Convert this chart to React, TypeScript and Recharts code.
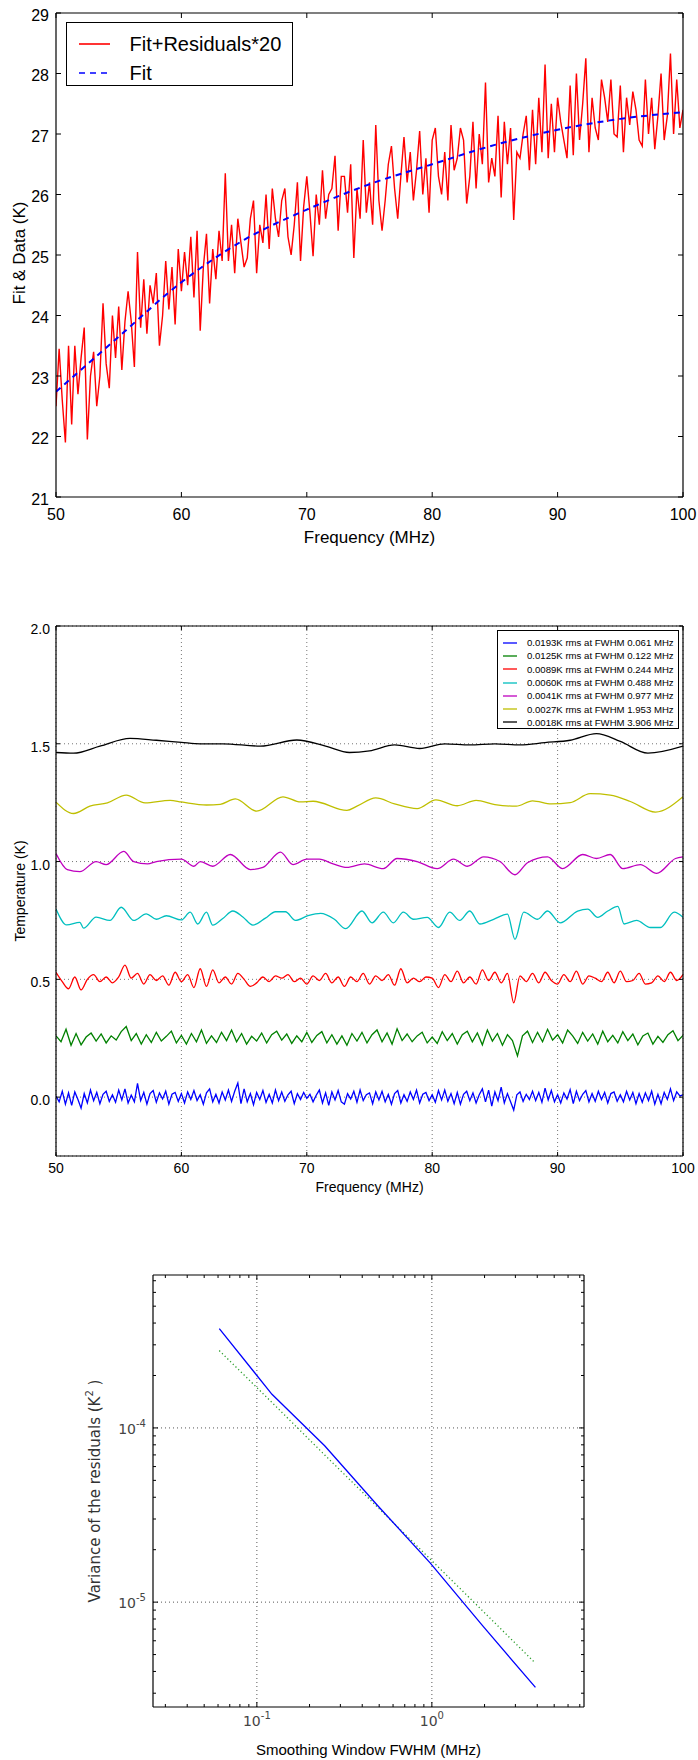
import React from "react";
import { LineChart, Line, XAxis, YAxis, CartesianGrid, Legend, ReferenceLine } from "recharts";

const SANS = "'Liberation Sans', Arial, Helvetica, sans-serif";
const DEJAVU = "'DejaVu Sans', sans-serif";

// ---------- panel 1: fit and fit + residuals*20 (K) ----------
const freqTicks = [50, 60, 70, 80, 90, 100];
const tempTicks = [21, 22, 23, 24, 25, 26, 27, 28, 29];
const fitFreq = [50, 55, 60, 65, 70, 75, 80, 85, 90, 95, 100];
const fitTemp = [22.74, 23.65, 24.55, 25.25, 25.75, 26.17, 26.5, 26.82, 27.07, 27.25, 27.36];
// 0.25 MHz steps from 50 MHz
const dataTemp = [
  22.5, 23.45, 22.6, 21.9, 23.5, 22.2, 23.5, 22.7,
  23.3, 23.8, 21.95, 23.0, 23.4, 22.5, 23.0, 24.2,
  23.2, 22.8, 24.0, 23.3, 24.15, 23.1, 23.9, 24.4,
  23.9, 23.15, 25.05, 23.8, 24.6, 23.7, 24.5, 24.2,
  24.7, 23.5, 24.0, 24.9, 24.1, 24.8, 23.85, 25.1,
  24.4, 25.05, 24.5, 25.3, 24.3, 25.4, 23.75, 24.8,
  25.35, 24.2, 25.1, 24.6, 25.4, 24.9, 26.35, 24.9,
  25.5, 24.7, 25.6, 25.2, 24.8, 24.95, 25.6, 25.9,
  24.7, 25.5, 25.2, 26.0, 25.1, 26.1, 25.6, 25.3,
  25.9, 26.1, 25.3, 25.0, 25.5, 26.2, 24.9, 25.8,
  26.3, 25.7, 24.98, 26.0, 25.5, 26.4, 25.6, 26.0,
  26.1, 26.64, 25.4, 26.3, 26.3, 25.7, 26.5, 24.95,
  26.1, 25.6, 26.9, 25.7, 26.2, 25.5, 27.15, 25.9,
  25.4, 25.9, 26.5, 26.8, 26.1, 25.6, 26.3, 26.95,
  26.2, 26.7, 25.9, 26.4, 27.05, 26.0, 26.6, 25.7,
  26.9, 27.1, 26.3, 26.0, 26.7, 25.9, 27.15, 26.4,
  26.6, 27.1, 26.9, 25.85, 26.3, 27.2, 26.1, 27.0,
  26.5, 27.85, 26.2, 26.6, 26.3, 27.3, 25.95, 27.2,
  26.5, 27.1, 25.58, 26.7, 26.6, 27.0, 27.3, 26.4,
  27.4, 26.5, 27.6, 26.7, 28.15, 26.6, 27.5, 26.7,
  27.6, 27.2, 26.9, 26.6, 27.8, 26.65, 28.0, 26.9,
  27.5, 28.25, 26.7, 27.6, 27.1, 26.9, 27.9, 27.6,
  27.2, 27.9, 27.0, 26.95, 27.8, 26.7, 27.6, 27.15,
  27.7, 27.4, 26.9, 26.8, 27.9, 27.0, 27.6, 26.75,
  27.3, 28.0, 26.9, 27.3, 28.33, 27.0, 27.9, 27.1,
  27.4,
];
const p1Legend = [
  { label: "Fit+Residuals*20", color: "#ff0000", dash: undefined },
  { label: "Fit", color: "#0000ff", dash: "6 5" },
];

// ---------- panel 2: smoothed residuals, offset by 0.25 K ----------
const p2YTicks = [0, 0.5, 1, 1.5, 2];
const smoothLabels = [
  "0.0193K rms at FWHM 0.061 MHz",
  "0.0125K rms at FWHM 0.122 MHz",
  "0.0089K rms at FWHM 0.244 MHz",
  "0.0060K rms at FWHM 0.488 MHz",
  "0.0041K rms at FWHM 0.977 MHz",
  "0.0027K rms at FWHM 1.953 MHz",
  "0.0018K rms at FWHM 3.906 MHz",
];
const smoothColors = ["#0000ff", "#008000", "#ff0000", "#00bfbf", "#bf00bf", "#bfbf00", "#000000"];
// mK around 0.0 K, 0.25 MHz steps
const blueRes = [
  5, -20, 25, -30, 18, -35, 22, -10,
  -47, 15, -25, 30, -15, 20, -28, 12,
  25, -18, 10, -22, 30, -12, 35, -25,
  8, -20, 58, -15, 20, -30, 15, 28,
  -22, 18, -8, 25, -30, 12, 20, -18,
  15, -25, 22, -10, 28, -15, 10, -30,
  18, 35, -20, 12, -25, 22, -12, 30,
  -18, 25, 60, -28, 35, -20, 15, -32,
  20, -10, 28, -22, 12, -25, 30, -15,
  22, -18, 10, 25, -28, 15, -10, 20,
  -5, 12, -20, 8, 30, -25, 18, -35,
  22, -12, 28, -20, -30, 15, -8, 25,
  -22, 30, -15, 10, 18, -28, 22, -12,
  25, -20, 12, -30, 15, 28, -25, 10,
  -18, 22, -10, 30, -25, 12, 20, -15,
  10, -22, 28, -12, 30, -18, 15, -28,
  20, -30, 12, 25, -15, 18, -25, 10,
  35, -20, 30, -38, 22, -15, 42, -25,
  15, -20, -55, 10, 22, -18, 12, -10,
  25, -15, 20, -22, 38, -12, 28, -20,
  10, -25, 18, -8, 32, -28, 25, -15,
  12, 28, -20, 15, -18, 25, -10, 20,
  -25, 15, 22, -18, 10, -20, 25, -12,
  20, -28, 15, -22, 18, -15, 25, -30,
  12, -28, 20, -10, 35, -15, 22, 5,
  10,
];
// mK around 0.25 K, 0.4 MHz steps
const greenRes = [
  10, -15, 38, -30, 20, -28, 5, 22, -12, 18,
  -20, 10, -8, 28, 50, -10, 20, -25, 15, -18,
  25, -12, 8, 30, -20, 12, -25, 20, -15, 35,
  -22, 10, -18, 25, -10, 35, -15, 20, -25, 8,
  -12, 22, -20, 15, 30, -8, 18, -22, 10, -15,
  25, -18, 12, 28, -20, 15, -25, 10, -30, 20,
  -12, 25, -20, 15, 35, -15, 22, -25, 40, -10,
  18, -15, 10, 25, -20, 5, -22, 28, -10, 20,
  -25, 15, 30, -15, 22, -28, 35, -12, 20, -30,
  15, -10, -75, 10, 30, -18, 25, -15, 38, -8,
  15, -20, 35, 10, -22, 25, -12, 18, -25, 30,
  -15, 12, -20, 28, -10, 18, -28, 10, 22, -25,
  8, -18, 15, 32, -10, 12,
];
// mK around 0.5 K, 0.5 MHz steps
const redRes = [
  30, -10, -40, 10, -45, 0, 20, -10, 10, -15,
  10, 60, 5, 25, -20, 20, -5, 15, -25, 30,
  -10, 20, -35, 45, -30, 40, -15, 10, -20, 25,
  0, -30, -15, 10, -10, 15, 5, 20, -10, 5,
  -20, 15, -5, 25, -15, 10, -30, 10, -10, 25,
  -20, 15, -5, 20, -25, 45, -15, 5, -10, 10,
  5, -35, 20, -10, 35, -15, 10, -20, 40, -5,
  30, -15, 25, -100, 15, -10, 25, -15, 30, -5,
  -20, 20, -10, 35, -20, 15, 5, -10, 30, -15,
  35, -10, -5, 25, -20, -15, 15, -10, 30, -5,
  20,
];
const cyanFreq = [50, 50.85, 51.9, 52.2, 53.2, 54.3, 55.2, 56.2, 57.2, 58, 58.8, 60, 60.7, 61.3, 62, 62.5, 63.3, 64.1, 64.9, 65.7, 66.7, 67.5, 68.3, 69.1, 70.1, 71.1, 72.2, 73.1, 74.4, 75.2, 76.1, 76.9, 77.7, 78.5, 79.6, 80.5, 81.4, 82.2, 83, 83.8, 84.9, 86, 86.6, 87.3, 88.4, 89.2, 90.2, 91.6, 92.4, 93.2, 94, 94.8, 95.3, 96.3, 97.4, 98.2, 99.3, 100];
const cyanTemp = [0.799, 0.731, 0.742, 0.717, 0.764, 0.75, 0.806, 0.75, 0.778, 0.755, 0.77, 0.752, 0.785, 0.735, 0.785, 0.73, 0.758, 0.79, 0.765, 0.73, 0.76, 0.787, 0.787, 0.75, 0.77, 0.78, 0.755, 0.715, 0.79, 0.74, 0.785, 0.74, 0.785, 0.755, 0.763, 0.72, 0.785, 0.75, 0.79, 0.735, 0.755, 0.777, 0.67, 0.785, 0.755, 0.79, 0.74, 0.79, 0.798, 0.763, 0.79, 0.81, 0.735, 0.75, 0.72, 0.72, 0.785, 0.763];
const magFreq = [50, 50.9, 51.9, 53.2, 54, 55.4, 56.2, 57.3, 58, 60, 61, 61.5, 62.5, 63.9, 65.5, 66.5, 67.9, 68.9, 70, 71, 72.1, 73.2, 74.6, 76.1, 77.2, 78.8, 80.4, 81.7, 82.8, 84.1, 85.4, 86.6, 87.6, 89.2, 90.4, 92, 93.1, 94.2, 95.2, 96.6, 97.9, 99.4, 100];
const magTemp = [1.034, 0.966, 0.957, 1.0, 0.987, 1.043, 1.0, 0.99, 1.0, 1.01, 0.98, 1.0, 0.98, 1.03, 0.966, 0.975, 1.04, 0.987, 1.01, 1.01, 0.99, 0.975, 0.99, 0.97, 1.013, 1.0, 0.97, 1.01, 0.98, 1.02, 1.0, 0.944, 0.995, 1.02, 0.97, 1.03, 1.013, 1.03, 0.97, 0.987, 0.95, 1.013, 1.02];
const yelFreq = [50, 51.4, 52.7, 54.1, 55.6, 57.1, 59.1, 60, 62, 63.1, 64.3, 66, 68.1, 69.5, 70.5, 73.2, 74, 75.5, 77, 78.8, 80.3, 82, 83.5, 85, 86.7, 88, 89.5, 91, 92.6, 94.2, 95.8, 97.8, 100];
const yelTemp = [1.252, 1.204, 1.235, 1.249, 1.282, 1.249, 1.26, 1.253, 1.24, 1.243, 1.266, 1.214, 1.275, 1.253, 1.256, 1.217, 1.235, 1.27, 1.245, 1.225, 1.262, 1.237, 1.26, 1.242, 1.235, 1.258, 1.245, 1.25, 1.288, 1.282, 1.255, 1.21, 1.275];
const blkFreq = [50, 51.4, 53.5, 55.9, 58, 60, 61.5, 63.3, 66.3, 69.2, 71.5, 73.4, 75, 77, 79, 81, 83, 85, 87, 89, 91, 93.1, 95, 97.2, 100];
const blkTemp = [1.463, 1.46, 1.49, 1.523, 1.515, 1.506, 1.5, 1.5, 1.49, 1.516, 1.49, 1.463, 1.47, 1.495, 1.48, 1.5, 1.495, 1.5, 1.495, 1.505, 1.515, 1.543, 1.51, 1.46, 1.49];

// ---------- panel 3: variance vs smoothing width ----------
const fwhm = [0.061, 0.122, 0.244, 0.488, 0.977, 1.953, 3.906];
const variance = [3.72e-4, 1.56e-4, 7.9e-5, 3.6e-5, 1.68e-5, 7.3e-6, 3.24e-6];
const varianceFit = [2.78e-4, 1.4e-4, 7.0e-5, 3.52e-5, 1.77e-5, 8.9e-6, 4.46e-6];
const fwhmMajor = [0.1, 1];
const fwhmTicks = [0.03, 0.04, 0.05, 0.06, 0.07, 0.08, 0.09, 0.1, 0.2, 0.3, 0.4, 0.5, 0.6, 0.7, 0.8, 0.9, 1, 2, 3, 4, 5, 6, 7];
const varMajor = [1e-5, 1e-4];
const varTicks = [3e-6, 4e-6, 5e-6, 6e-6, 7e-6, 8e-6, 9e-6, 1e-5, 2e-5, 3e-5, 4e-5, 5e-5, 6e-5, 7e-5, 8e-5, 9e-5, 1e-4, 2e-4, 3e-4, 4e-4, 5e-4, 6e-4, 7e-4];

// ---------- tables ----------
const stepRows = (vals: number[], step: number, scale: number, base: number) =>
  vals.map((v, i) => ({ f: 50 + i * step, v: base + v * scale }));
const pairRows = (fs: number[], vs: number[]) => fs.map((f, i) => ({ f, v: vs[i] }));

const p1Data = stepRows(dataTemp, 0.25, 1, 0);
const p1Fit = pairRows(fitFreq, fitTemp);
const p2Series = [
  { rows: stepRows(blueRes, 0.25, 0.001, 0), curve: "linear" },
  { rows: stepRows(greenRes, 0.4, 0.001, 0.25), curve: "linear" },
  { rows: stepRows(redRes, 0.5, 0.001, 0.5), curve: "monotone" },
  { rows: pairRows(cyanFreq, cyanTemp), curve: "monotone" },
  { rows: pairRows(magFreq, magTemp), curve: "monotone" },
  { rows: pairRows(yelFreq, yelTemp), curve: "monotone" },
  { rows: pairRows(blkFreq, blkTemp), curve: "monotone" },
];
const p3Var = fwhm.map((x, i) => ({ x, v: variance[i] }));
const p3Fit = fwhm.map((x, i) => ({ x, v: varianceFit[i] }));

// ---------- ticks drawn inward, matplotlib style ----------
type Side = "bottom" | "top" | "left" | "right";
type TickOpts = {
  side: Side; len: number; minor?: number; majors?: number[]; text?: boolean;
  off?: number; shift?: number; size?: number; font?: string; color?: string;
  fmt?: (v: number) => React.ReactNode;
};
const makeTick = (o: TickOpts) => (p: any) => {
  const { x, y } = p;
  const v: number = p.payload.value;
  const major = !o.majors || o.majors.some((m) => Math.abs(v / m - 1) < 1e-6);
  const L = major ? o.len : o.minor ?? 0;
  const d = { bottom: [0, -L], top: [0, L], left: [L, 0], right: [-L, 0] }[o.side];
  let label = null;
  if (o.text && major) {
    const lx = o.side === "left" ? x - (o.off ?? 0) : x;
    const ly = o.side === "bottom" ? y + (o.off ?? 0) : y + (o.shift ?? 0);
    label = (
      <text x={lx} y={ly} textAnchor={o.side === "left" ? "end" : "middle"} dominantBaseline="central"
        fontSize={o.size} fontFamily={o.font} fill={o.color ?? "#000"}>
        {o.fmt ? o.fmt(v) : v}
      </text>
    );
  }
  return (
    <g>
      <line x1={x} y1={y} x2={x + d[0]} y2={y + d[1]} stroke="#000" strokeWidth={1} />
      {label}
    </g>
  );
};
const pow10 = (v: number) => {
  const e = Math.round(Math.log10(v));
  return [<tspan key="b">10</tspan>, <tspan key="e" dy={-6} fontSize={10}>{String(e)}</tspan>];
};

const frame = { stroke: "#000", strokeWidth: 1.2 };

function Title({ px, py, size, font, color, rot, children }: any) {
  return (
    <text x={px} y={py} textAnchor="middle" dominantBaseline="central" fontSize={size} fontFamily={font ?? SANS}
      fill={color ?? "#000"} transform={rot ? `rotate(-90 ${px} ${py})` : undefined}>
      {children}
    </text>
  );
}

function FitLegend() {
  return (
    <div style={{ width: 227, height: 64, boxSizing: "border-box", border: "1.5px solid #000", background: "#fff", padding: "6px 0 0 11.5px", fontFamily: SANS, fontSize: 20 }}>
      {p1Legend.map((it) => (
        <div key={it.label} style={{ display: "flex", alignItems: "center", height: 29 }}>
          <svg width={31} height={4} style={{ display: "block" }}>
            <line x1={0} y1={2} x2={31} y2={2} stroke={it.color} strokeWidth={1.6} strokeDasharray={it.dash} />
          </svg>
          <span style={{ marginLeft: 20, lineHeight: "20px" }}>{it.label}</span>
        </div>
      ))}
    </div>
  );
}

function SmoothLegend() {
  return (
    <div style={{ width: 182, height: 99, boxSizing: "border-box", border: "1px solid #000", background: "#fff", padding: "5px 0 0 5px", fontFamily: SANS, fontSize: 9.6 }}>
      {smoothLabels.map((lab, i) => (
        <div key={lab} style={{ display: "flex", alignItems: "center", height: 13.3 }}>
          <svg width={14} height={4} style={{ display: "block" }}>
            <line x1={0} y1={2} x2={14} y2={2} stroke={smoothColors[i]} strokeWidth={1.3} />
          </svg>
          <span style={{ marginLeft: 10, lineHeight: "11px", whiteSpace: "nowrap" }}>{lab}</span>
        </div>
      ))}
    </div>
  );
}

function FitPanel() {
  return (
    <div style={{ position: "absolute", left: 0, top: 0, width: 698, height: 560 }}>
      <LineChart width={698} height={560} margin={{ top: 3, right: 5, bottom: 23, left: 6 }}>
        <XAxis xAxisId="b" type="number" dataKey="f" domain={[50, 100]} ticks={freqTicks} interval={0} allowDataOverflow
          height={40} tickSize={0} tickMargin={0} tickLine={false} axisLine={frame}
          tick={makeTick({ side: "bottom", len: 5, text: true, off: 17.5, size: 16, font: SANS })} />
        <XAxis xAxisId="t" orientation="top" type="number" dataKey="f" domain={[50, 100]} ticks={freqTicks} interval={0} allowDataOverflow
          height={10} tickSize={0} tickMargin={0} tickLine={false} axisLine={frame} tick={makeTick({ side: "top", len: 5 })} />
        <YAxis yAxisId="l" type="number" domain={[21, 29]} ticks={tempTicks} interval={0} allowDataOverflow
          width={50} tickSize={0} tickMargin={0} tickLine={false} axisLine={frame}
          tick={makeTick({ side: "left", len: 5, text: true, off: 7, shift: 2, size: 16, font: SANS })} />
        <YAxis yAxisId="r" orientation="right" type="number" domain={[21, 29]} ticks={tempTicks} interval={0} allowDataOverflow
          width={10} tickSize={0} tickMargin={0} tickLine={false} axisLine={frame} tick={makeTick({ side: "right", len: 5 })} />
        <Line xAxisId="b" yAxisId="l" data={p1Data} dataKey="v" name="Fit+Residuals*20" type="linear"
          stroke="#ff0000" strokeWidth={1.4} dot={false} activeDot={false} isAnimationActive={false} />
        <Line xAxisId="b" yAxisId="l" data={p1Fit} dataKey="v" name="Fit" type="monotone"
          stroke="#0000ff" strokeWidth={2} strokeDasharray="6 5" dot={false} activeDot={false} isAnimationActive={false} />
        <Legend layout="vertical" align="center" verticalAlign="middle" wrapperStyle={{ left: 66, top: 22 }} content={() => <FitLegend />} />
      </LineChart>
      <svg width={698} height={560} style={{ position: "absolute", left: 0, top: 0, pointerEvents: "none" }}>
        <Title px={369.5} py={537} size={17}>Frequency (MHz)</Title>
        <Title px={19} py={253} size={17} rot>Fit &amp; Data (K)</Title>
      </svg>
    </div>
  );
}

function SmoothPanel() {
  return (
    <div style={{ position: "absolute", left: 0, top: 600, width: 698, height: 600 }}>
      <LineChart width={698} height={600} margin={{ top: 16, right: 5, bottom: 4, left: 6 }}>
        <CartesianGrid xAxisId="b" yAxisId="l" stroke="#666" strokeDasharray="1 3" strokeWidth={0.9} />
        <XAxis xAxisId="b" type="number" dataKey="f" domain={[50, 100]} ticks={freqTicks} interval={0} allowDataOverflow
          height={40} tickSize={0} tickMargin={0} tickLine={false} axisLine={frame}
          tick={makeTick({ side: "bottom", len: 4, text: true, off: 12, size: 14, font: SANS })} />
        <XAxis xAxisId="t" orientation="top" type="number" dataKey="f" domain={[50, 100]} ticks={freqTicks} interval={0} allowDataOverflow
          height={10} tickSize={0} tickMargin={0} tickLine={false} axisLine={frame} tick={makeTick({ side: "top", len: 4 })} />
        <YAxis yAxisId="l" type="number" domain={[-0.25, 2]} ticks={p2YTicks} interval={0} allowDataOverflow
          width={50} tickSize={0} tickMargin={0} tickLine={false} axisLine={frame}
          tick={makeTick({ side: "left", len: 4, text: true, off: 6, shift: 3, size: 14, font: SANS, fmt: (v) => v.toFixed(1) })} />
        <YAxis yAxisId="r" orientation="right" type="number" domain={[-0.25, 2]} ticks={p2YTicks} interval={0} allowDataOverflow
          width={10} tickSize={0} tickMargin={0} tickLine={false} axisLine={frame} tick={makeTick({ side: "right", len: 4 })} />
        {p2Series.map((s, i) => (
          <Line key={smoothLabels[i]} xAxisId="b" yAxisId="l" data={s.rows} dataKey="v" name={smoothLabels[i]}
            type={s.curve as any} stroke={smoothColors[i]} strokeWidth={1.3} dot={false} activeDot={false} isAnimationActive={false} />
        ))}
        <Legend layout="vertical" align="center" verticalAlign="middle" wrapperStyle={{ left: 497, top: 30 }} content={() => <SmoothLegend />} />
      </LineChart>
      <svg width={698} height={600} style={{ position: "absolute", left: 0, top: 0, pointerEvents: "none" }}>
        <Title px={369.5} py={587} size={14}>Frequency (MHz)</Title>
        <Title px={20} py={291} size={14} rot>Temperature (K)</Title>
      </svg>
    </div>
  );
}

function VariancePanel() {
  const grid = { stroke: "#444", strokeDasharray: "1 3", strokeWidth: 0.9 };
  return (
    <div style={{ position: "absolute", left: 0, top: 1230, width: 698, height: 530 }}>
      <LineChart width={698} height={530} margin={{ top: 35, right: 104, bottom: 13, left: 103 }}>
        <XAxis xAxisId="b" type="number" scale="log" dataKey="x" domain={[0.0255, 7.4]} ticks={fwhmTicks} interval={0} allowDataOverflow
          height={40} tickSize={0} tickMargin={0} tickLine={false} axisLine={frame}
          tick={makeTick({ side: "bottom", len: 5, minor: 3, majors: fwhmMajor, text: true, off: 14, size: 14, font: DEJAVU, color: "#444", fmt: pow10 })} />
        <XAxis xAxisId="t" orientation="top" type="number" scale="log" dataKey="x" domain={[0.0255, 7.4]} ticks={fwhmTicks} interval={0} allowDataOverflow
          height={10} tickSize={0} tickMargin={0} tickLine={false} axisLine={frame}
          tick={makeTick({ side: "top", len: 5, minor: 3, majors: fwhmMajor })} />
        <YAxis yAxisId="l" type="number" scale="log" domain={[2.5e-6, 7.55e-4]} ticks={varTicks} interval={0} allowDataOverflow
          width={50} tickSize={0} tickMargin={0} tickLine={false} axisLine={frame}
          tick={makeTick({ side: "left", len: 5, minor: 3, majors: varMajor, text: true, off: 7, shift: 1, size: 14, font: DEJAVU, color: "#444", fmt: pow10 })} />
        <YAxis yAxisId="r" orientation="right" type="number" scale="log" domain={[2.5e-6, 7.55e-4]} ticks={varTicks} interval={0} allowDataOverflow
          width={10} tickSize={0} tickMargin={0} tickLine={false} axisLine={frame}
          tick={makeTick({ side: "right", len: 5, minor: 3, majors: varMajor })} />
        {fwhmMajor.map((x) => (
          <ReferenceLine key={`gx${x}`} xAxisId="b" yAxisId="l" x={x} {...grid} />
        ))}
        {varMajor.map((y) => (
          <ReferenceLine key={`gy${y}`} xAxisId="b" yAxisId="l" y={y} {...grid} />
        ))}
        <Line xAxisId="b" yAxisId="l" data={p3Fit} dataKey="v" type="linear" stroke="#2a9d2a" strokeWidth={1.3}
          strokeDasharray="1.2 2.6" dot={false} activeDot={false} isAnimationActive={false} />
        <Line xAxisId="b" yAxisId="l" data={p3Var} dataKey="v" type="linear" stroke="#0000ff" strokeWidth={1.3}
          dot={false} activeDot={false} isAnimationActive={false} />
      </LineChart>
      <svg width={698} height={530} style={{ position: "absolute", left: 0, top: 0, pointerEvents: "none" }}>
        <Title px={368.5} py={519} size={15}>Smoothing Window FWHM (MHz)</Title>
        <Title px={95} py={261} size={15} font={DEJAVU} color="#333" rot>
          <tspan>Variance of the residuals (K</tspan>
          <tspan dy={-6} fontSize={10}>2</tspan>
          <tspan dy={6}> )</tspan>
        </Title>
      </svg>
    </div>
  );
}

export default function App() {
  return (
    <div style={{ position: "absolute", left: 0, top: 0, width: 698, height: 1760, background: "#fff" }}>
      <FitPanel />
      <SmoothPanel />
      <VariancePanel />
    </div>
  );
}
